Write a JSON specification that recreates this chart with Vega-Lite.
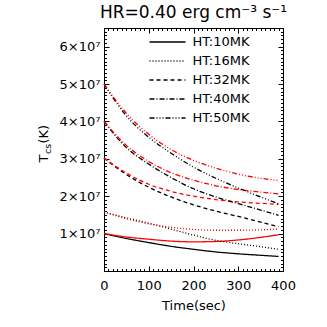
{
  "$schema": "https://vega.github.io/schema/vega-lite/v6.json",
  "autosize": "none",
  "width": 179,
  "height": 243,
  "padding": {"left": 104, "top": 28, "right": 44, "bottom": 56},
  "title": {"text": "HR=0.40 erg cm⁻³ s⁻¹", "font": "DejaVu Sans", "fontSize": 17, "fontWeight": "normal", "color": "black", "anchor": "middle", "offset": 6},
  "config": {
    "view": {"stroke": "black", "strokeWidth": 1},
    "axis": {"domain": false, "grid": false, "tickColor": "black", "labelColor": "black", "titleColor": "black", "labelFont": "DejaVu Sans", "titleFont": "DejaVu Sans", "labelFontSize": 13, "titleFontSize": 13, "titleFontWeight": "normal", "tickWidth": 1}
  },
  "data": {"values": [
    {"t":0,"T":10000000,"HT":"HT:10MK","run":"M1"},{"t":50,"T":8700000,"HT":"HT:10MK","run":"M1"},{"t":100,"T":7600000,"HT":"HT:10MK","run":"M1"},{"t":150,"T":6600000,"HT":"HT:10MK","run":"M1"},{"t":200,"T":5800000,"HT":"HT:10MK","run":"M1"},{"t":250,"T":5100000,"HT":"HT:10MK","run":"M1"},{"t":300,"T":4600000,"HT":"HT:10MK","run":"M1"},{"t":350,"T":4200000,"HT":"HT:10MK","run":"M1"},{"t":390,"T":3900000,"HT":"HT:10MK","run":"M1"},
    {"t":0,"T":10000000,"HT":"HT:10MK","run":"M2"},{"t":50,"T":9100000,"HT":"HT:10MK","run":"M2"},{"t":100,"T":8500000,"HT":"HT:10MK","run":"M2"},{"t":150,"T":8000000,"HT":"HT:10MK","run":"M2"},{"t":200,"T":7800000,"HT":"HT:10MK","run":"M2"},{"t":250,"T":7900000,"HT":"HT:10MK","run":"M2"},{"t":300,"T":8300000,"HT":"HT:10MK","run":"M2"},{"t":350,"T":9000000,"HT":"HT:10MK","run":"M2"},{"t":390,"T":9700000,"HT":"HT:10MK","run":"M2"},
    {"t":0,"T":15800000,"HT":"HT:16MK","run":"M1"},{"t":50,"T":14200000,"HT":"HT:16MK","run":"M1"},{"t":100,"T":12800000,"HT":"HT:16MK","run":"M1"},{"t":150,"T":11200000,"HT":"HT:16MK","run":"M1"},{"t":200,"T":9600000,"HT":"HT:16MK","run":"M1"},{"t":250,"T":8200000,"HT":"HT:16MK","run":"M1"},{"t":300,"T":7300000,"HT":"HT:16MK","run":"M1"},{"t":350,"T":6500000,"HT":"HT:16MK","run":"M1"},{"t":390,"T":5800000,"HT":"HT:16MK","run":"M1"},
    {"t":0,"T":15800000,"HT":"HT:16MK","run":"M2"},{"t":50,"T":14000000,"HT":"HT:16MK","run":"M2"},{"t":100,"T":12600000,"HT":"HT:16MK","run":"M2"},{"t":150,"T":11700000,"HT":"HT:16MK","run":"M2"},{"t":200,"T":11100000,"HT":"HT:16MK","run":"M2"},{"t":250,"T":10900000,"HT":"HT:16MK","run":"M2"},{"t":300,"T":10900000,"HT":"HT:16MK","run":"M2"},{"t":350,"T":11000000,"HT":"HT:16MK","run":"M2"},{"t":390,"T":11200000,"HT":"HT:16MK","run":"M2"},
    {"t":0,"T":30200000,"HT":"HT:32MK","run":"M1"},{"t":50,"T":25800000,"HT":"HT:32MK","run":"M1"},{"t":100,"T":22400000,"HT":"HT:32MK","run":"M1"},{"t":150,"T":19800000,"HT":"HT:32MK","run":"M1"},{"t":200,"T":17700000,"HT":"HT:32MK","run":"M1"},{"t":250,"T":16000000,"HT":"HT:32MK","run":"M1"},{"t":300,"T":14600000,"HT":"HT:32MK","run":"M1"},{"t":350,"T":13100000,"HT":"HT:32MK","run":"M1"},{"t":390,"T":11800000,"HT":"HT:32MK","run":"M1"},
    {"t":0,"T":30200000,"HT":"HT:32MK","run":"M2"},{"t":50,"T":26200000,"HT":"HT:32MK","run":"M2"},{"t":100,"T":23200000,"HT":"HT:32MK","run":"M2"},{"t":150,"T":21300000,"HT":"HT:32MK","run":"M2"},{"t":200,"T":20000000,"HT":"HT:32MK","run":"M2"},{"t":250,"T":19100000,"HT":"HT:32MK","run":"M2"},{"t":300,"T":18500000,"HT":"HT:32MK","run":"M2"},{"t":350,"T":18100000,"HT":"HT:32MK","run":"M2"},{"t":390,"T":17800000,"HT":"HT:32MK","run":"M2"},
    {"t":0,"T":40000000,"HT":"HT:40MK","run":"M1"},{"t":50,"T":33000000,"HT":"HT:40MK","run":"M1"},{"t":100,"T":28600000,"HT":"HT:40MK","run":"M1"},{"t":150,"T":25000000,"HT":"HT:40MK","run":"M1"},{"t":200,"T":22000000,"HT":"HT:40MK","run":"M1"},{"t":250,"T":19800000,"HT":"HT:40MK","run":"M1"},{"t":300,"T":18000000,"HT":"HT:40MK","run":"M1"},{"t":350,"T":16300000,"HT":"HT:40MK","run":"M1"},{"t":390,"T":14900000,"HT":"HT:40MK","run":"M1"},
    {"t":0,"T":40000000,"HT":"HT:40MK","run":"M2"},{"t":50,"T":33600000,"HT":"HT:40MK","run":"M2"},{"t":100,"T":29300000,"HT":"HT:40MK","run":"M2"},{"t":150,"T":26300000,"HT":"HT:40MK","run":"M2"},{"t":200,"T":24300000,"HT":"HT:40MK","run":"M2"},{"t":250,"T":22800000,"HT":"HT:40MK","run":"M2"},{"t":300,"T":21800000,"HT":"HT:40MK","run":"M2"},{"t":350,"T":21100000,"HT":"HT:40MK","run":"M2"},{"t":390,"T":20600000,"HT":"HT:40MK","run":"M2"},
    {"t":0,"T":50000000,"HT":"HT:50MK","run":"M1"},{"t":50,"T":41500000,"HT":"HT:50MK","run":"M1"},{"t":100,"T":35800000,"HT":"HT:50MK","run":"M1"},{"t":150,"T":31500000,"HT":"HT:50MK","run":"M1"},{"t":200,"T":27800000,"HT":"HT:50MK","run":"M1"},{"t":250,"T":24800000,"HT":"HT:50MK","run":"M1"},{"t":300,"T":22200000,"HT":"HT:50MK","run":"M1"},{"t":350,"T":19800000,"HT":"HT:50MK","run":"M1"},{"t":390,"T":18000000,"HT":"HT:50MK","run":"M1"},
    {"t":0,"T":50000000,"HT":"HT:50MK","run":"M2"},{"t":50,"T":42200000,"HT":"HT:50MK","run":"M2"},{"t":100,"T":36600000,"HT":"HT:50MK","run":"M2"},{"t":150,"T":32500000,"HT":"HT:50MK","run":"M2"},{"t":200,"T":29600000,"HT":"HT:50MK","run":"M2"},{"t":250,"T":27500000,"HT":"HT:50MK","run":"M2"},{"t":300,"T":25900000,"HT":"HT:50MK","run":"M2"},{"t":350,"T":24800000,"HT":"HT:50MK","run":"M2"},{"t":390,"T":24200000,"HT":"HT:50MK","run":"M2"}
  ]},
  "layer": [
    {
      "mark": {"type": "line", "strokeWidth": 1.3, "interpolate": "monotone"},
      "encoding": {
        "x": {"field": "t", "type": "quantitative", "scale": {"domain": [0, 400], "nice": false, "zero": false},
          "axis": {"orient": "bottom", "values": [0, 100, 200, 300, 400], "tickSize": -5, "labelPadding": 13, "format": "d", "labelFlush": false, "labelOverlap": false, "title": "Time(sec)", "titleBaseline": "alphabetic", "titleY": 38.5}},
        "y": {"field": "T", "type": "quantitative", "scale": {"domain": [0, 65000000], "nice": false},
          "axis": {"orient": "left", "values": [10000000, 20000000, 30000000, 40000000, 50000000, 60000000], "tickSize": -5, "labelPadding": 9, "labelFlush": false, "labelOverlap": false, "labelExpr": "format(datum.value/10000000, 'd') + '×10⁷'", "title": "T", "titleAngle": 270, "titleAlign": "left", "titleBaseline": "alphabetic", "titleX": -57, "titleY": 134}},
        "color": {"field": "run", "type": "nominal", "scale": {"domain": ["M1", "M2"], "range": ["#000000", "#ff0000"]}, "legend": null},
        "strokeDash": {"field": "HT", "type": "nominal",
          "scale": {"domain": ["HT:10MK", "HT:16MK", "HT:32MK", "HT:40MK", "HT:50MK"], "range": [[1, 0], [1, 2], [4, 3], [5, 2, 1, 2], [5, 2, 1, 2, 1, 2, 1, 2]]},
          "legend": {"orient": "none", "legendX": 45, "legendY": 7, "title": null, "padding": 0, "symbolType": "M-3,0H3", "symbolSize": 144, "symbolStrokeColor": "black", "symbolStrokeWidth": 1.3, "symbolOffset": 11.5, "labelOffset": 18, "labelFont": "DejaVu Sans", "labelFontSize": 13, "labelColor": "black", "rowPadding": 5}}
      }
    },
    {
      "transform": [{"filter": "false"}],
      "mark": {"type": "line"},
      "encoding": {
        "x": {"field": "t", "type": "quantitative", "axis": {"orient": "bottom", "tickCount": 40, "tickSize": -2.5, "labels": false, "title": null}},
        "y": {"field": "T", "type": "quantitative", "axis": {"orient": "left", "tickCount": 65, "tickSize": -2.5, "labels": false, "title": null}}
      }
    },
    {
      "transform": [{"filter": "false"}],
      "mark": {"type": "line"},
      "encoding": {
        "x": {"field": "t", "type": "quantitative", "axis": {"orient": "top", "values": [0, 100, 200, 300, 400], "tickSize": -5, "labels": false, "title": "(K)", "titleAngle": 270, "titleAlign": "left", "titleBaseline": "alphabetic", "titleX": -57, "titleY": 115}},
        "y": {"field": "T", "type": "quantitative", "axis": {"orient": "right", "values": [10000000, 20000000, 30000000, 40000000, 50000000, 60000000], "tickSize": -5, "labels": false, "title": "cs", "titleFontSize": 9.5, "titleAngle": 270, "titleAlign": "left", "titleBaseline": "alphabetic", "titleX": -233, "titleY": 125.5}}
      }
    },
    {
      "transform": [{"filter": "false"}],
      "mark": {"type": "line"},
      "encoding": {
        "x": {"field": "t", "type": "quantitative", "axis": {"orient": "top", "tickCount": 40, "tickSize": -2.5, "labels": false, "title": null}},
        "y": {"field": "T", "type": "quantitative", "axis": {"orient": "right", "tickCount": 65, "tickSize": -2.5, "labels": false, "title": null}}
      }
    }
  ],
  "resolve": {"axis": {"x": "independent", "y": "independent"}}
}
